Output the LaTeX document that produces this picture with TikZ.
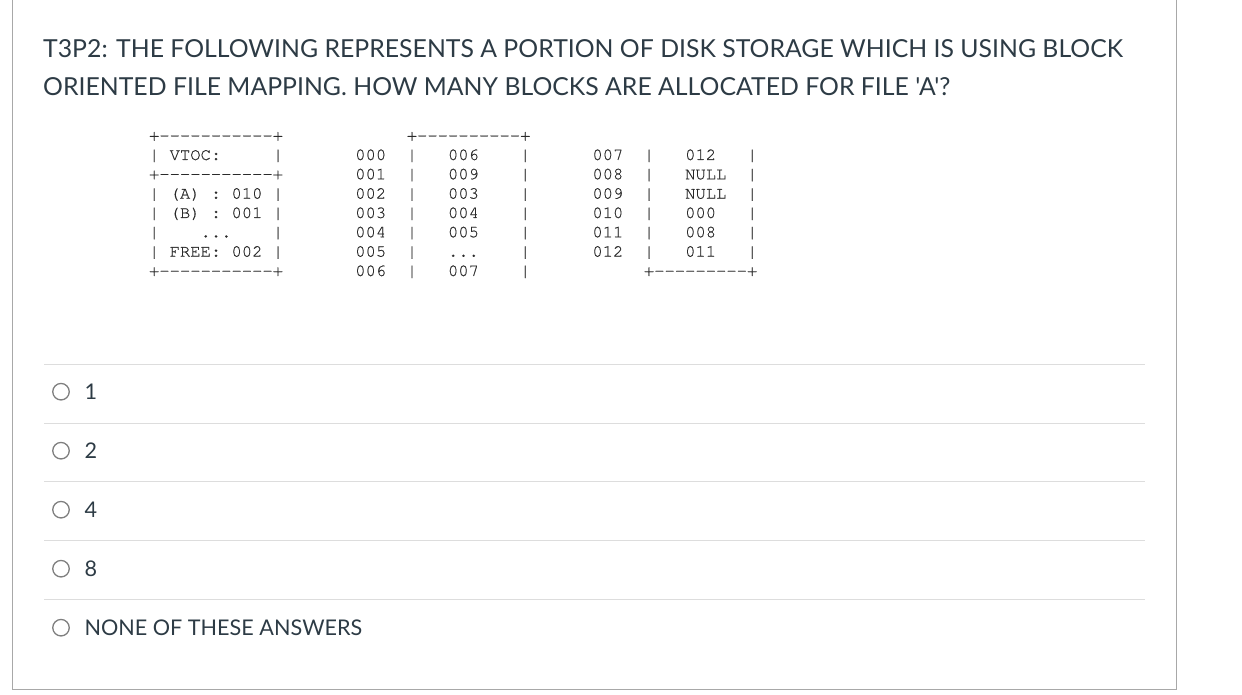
\documentclass[tikz,border=0pt]{standalone}
\usepackage{fontspec}
\defaultfontfeatures[\rmfamily]{}
\setmainfont{Lato}
\setmonofont{TeX Gyre Cursor}[FakeBold=0.5]
\usetikzlibrary{positioning}

\definecolor{canvastext}{HTML}{2D3B45}
\definecolor{asciitext}{HTML}{2A2A2A}
\definecolor{framegray}{HTML}{A8A8A8}
\definecolor{rulegray}{HTML}{DDDDDD}
\definecolor{radiogray}{HTML}{7F7F7F}

\tikzset{
    question/.style={anchor=base west, inner sep=0pt, text=canvastext,
        font=\fontsize{24.8}{29}\selectfont},
    ascii/.style={anchor=base west, inner sep=0pt, text=asciitext,
        font=\ttfamily\fontsize{17.18}{19.33}\selectfont},
    radio/.style={circle, draw=radiogray, line width=1.3pt,
        minimum size=16.5pt, inner sep=0pt},
    answer/.style={inner sep=0pt, text=canvastext,
        font=\fontsize{21.6}{25}\selectfont},
    answerrule/.style={draw=rulegray, line width=1pt}
}

\begin{document}
\begin{tikzpicture}[x=1pt, y=-1pt, node distance=14.5pt]

        \useasboundingbox (0,0) rectangle (1242,695);

        % Frame of the quiz card (open at the top)
        \draw[framegray, line width=1.4pt] (12.7,0) -- (12.7,689.3) -- (1176.3,689.3) -- (1176.3,0);

        % Question
        \node[question] (Q1) at (43,57.3) {T3P2: THE FOLLOWING REPRESENTS A PORTION OF DISK STORAGE WHICH IS USING BLOCK};
        \node[question] (Q2) at (43,95.7) {ORIENTED FILE MAPPING. HOW MANY BLOCKS ARE ALLOCATED FOR FILE 'A'?};

        % VTOC box
        \node[ascii] (vtoc0) at (148.85,140.7) {+-----------+};
        \node[ascii] (vtoc1) at (148.85,160.0) {|~VTOC:~~~~~|};
        \node[ascii] (vtoc2) at (148.85,179.3) {+-----------+};
        \node[ascii] (vtoc3) at (148.85,198.7) {|~(A)~:~010~|};
        \node[ascii] (vtoc4) at (148.85,218.0) {|~(B)~:~001~|};
        \node[ascii] (vtoc5) at (148.85,237.3) {|~~~~...~~~~|};
        \node[ascii] (vtoc6) at (148.85,256.7) {|~FREE:~002~|};
        \node[ascii] (vtoc7) at (148.85,276.0) {+-----------+};

        % Block map, blocks 000 to 006
        \node[ascii] (mapA0) at (355.05,140.7) {~~~~~+----------+};
        \node[ascii] (mapA1) at (355.05,160.0) {000~~|~~~006~~~~|};
        \node[ascii] (mapA2) at (355.05,179.3) {001~~|~~~009~~~~|};
        \node[ascii] (mapA3) at (355.05,198.7) {002~~|~~~003~~~~|};
        \node[ascii] (mapA4) at (355.05,218.0) {003~~|~~~004~~~~|};
        \node[ascii] (mapA5) at (355.05,237.3) {004~~|~~~005~~~~|};
        \node[ascii] (mapA6) at (355.05,256.7) {005~~|~~~...~~~~|};
        \node[ascii] (mapA7) at (355.05,276.0) {006~~|~~~007~~~~|};

        % Block map, blocks 007 to 012
        \node[ascii] (mapB1) at (592.2,160.0) {007~~|~~~012~~~|};
        \node[ascii] (mapB2) at (592.2,179.3) {008~~|~~~NULL~~|};
        \node[ascii] (mapB3) at (592.2,198.7) {009~~|~~~NULL~~|};
        \node[ascii] (mapB4) at (592.2,218.0) {010~~|~~~000~~~|};
        \node[ascii] (mapB5) at (592.2,237.3) {011~~|~~~008~~~|};
        \node[ascii] (mapB6) at (592.2,256.7) {012~~|~~~011~~~|};
        \node[ascii] (mapB7) at (592.2,276.0) {~~~~~+---------+};

        % Rules between the answers
        \draw[answerrule] (44,364.5) -- (1145,364.5);
        \draw[answerrule] (44,423.0) -- (1145,423.0);
        \draw[answerrule] (44,481.8) -- (1145,481.8);
        \draw[answerrule] (44,540.8) -- (1145,540.8);
        \draw[answerrule] (44,599.5) -- (1145,599.5);

        % Answers
        \node[radio] (R1) at (61,391.7) {};
        \node[radio] (R2) at (61,450.7) {};
        \node[radio] (R3) at (61,509.7) {};
        \node[radio] (R4) at (61,568.7) {};
        \node[radio] (R5) at (61,627.7) {};

        \node[answer, right=of R1] (A1) {1};
        \node[answer, right=of R2] (A2) {2};
        \node[answer, right=of R3] (A3) {4};
        \node[answer, right=of R4] (A4) {8};
        \node[answer, right=of R5] (A5) {NONE OF THESE ANSWERS};

\end{tikzpicture}
\end{document}
